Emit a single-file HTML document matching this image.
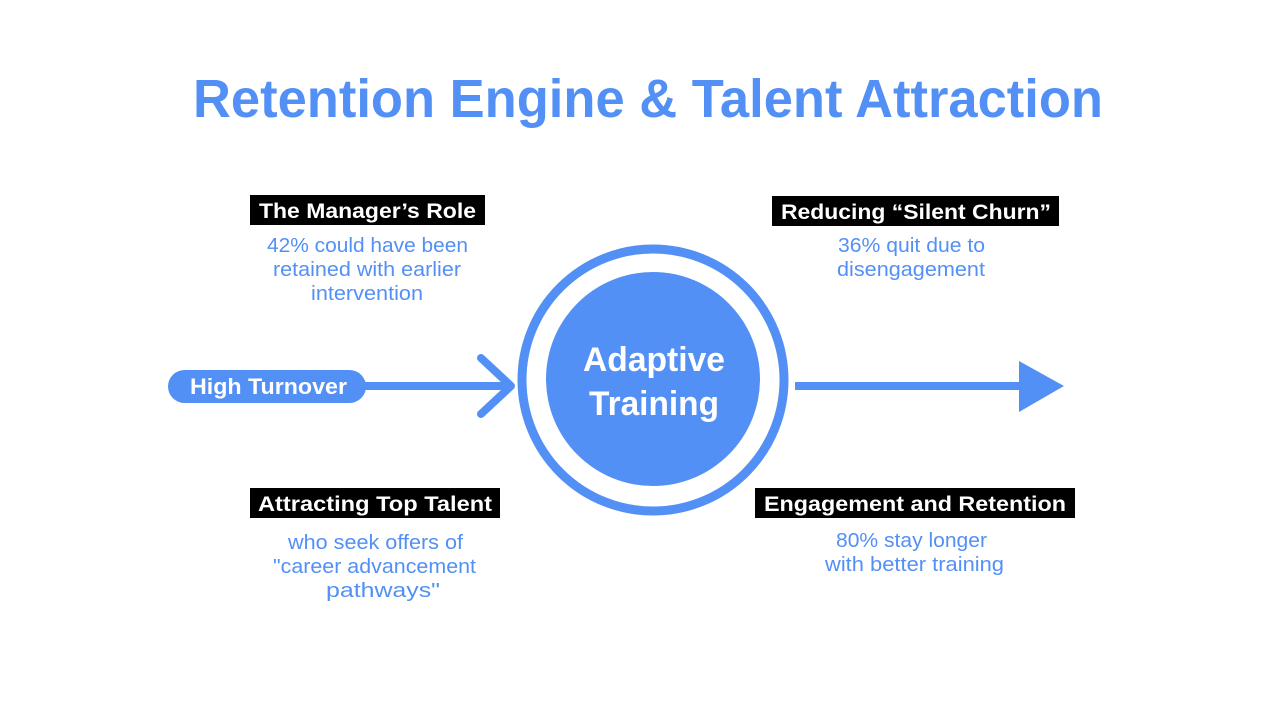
<!DOCTYPE html>
<html><head><meta charset="utf-8"><style>
html,body{margin:0;padding:0;background:#fff;}
svg{display:block;}
text{font-family:"Liberation Sans",Arial,sans-serif;}
</style></head><body>
<svg width="1280" height="720" viewBox="0 0 1280 720" xmlns="http://www.w3.org/2000/svg">
<rect width="1280" height="720" fill="#fff"/>
<text x="193" y="117" font-size="54" font-weight="bold" fill="#5390f5" textLength="910" lengthAdjust="spacingAndGlyphs">Retention Engine &amp; Talent Attraction</text>

<!-- left pill + arrow -->
<rect x="168" y="370" width="198" height="33" rx="16.5" fill="#5390f5"/>
<text x="190" y="394" font-size="22" font-weight="bold" fill="#fff" textLength="157" lengthAdjust="spacingAndGlyphs">High Turnover</text>
<line x1="360" y1="386" x2="510" y2="386" stroke="#5390f5" stroke-width="8"/>
<polyline points="481,358 511,386 481,414" fill="none" stroke="#5390f5" stroke-width="8" stroke-linecap="round" stroke-linejoin="round"/>

<!-- circle -->
<circle cx="653" cy="380" r="131" fill="none" stroke="#5390f5" stroke-width="9"/>
<circle cx="653" cy="379" r="107" fill="#5390f5"/>
<text x="654" y="371" font-size="34" font-weight="bold" fill="#fff" text-anchor="middle" textLength="142" lengthAdjust="spacingAndGlyphs">Adaptive</text>
<text x="654" y="415" font-size="34" font-weight="bold" fill="#fff" text-anchor="middle" textLength="130" lengthAdjust="spacingAndGlyphs">Training</text>

<!-- right arrow -->
<line x1="795" y1="386" x2="1022" y2="386" stroke="#5390f5" stroke-width="8"/>
<polygon points="1019,361 1064,386 1019,412" fill="#5390f5"/>

<!-- labels -->
<rect x="250" y="195" width="235" height="30" fill="#000"/>
<text x="259" y="218" font-size="21" font-weight="bold" fill="#fff" textLength="217" lengthAdjust="spacingAndGlyphs">The Manager’s Role</text>
<rect x="772" y="196" width="287" height="30" fill="#000"/>
<text x="781" y="219" font-size="21" font-weight="bold" fill="#fff" textLength="270" lengthAdjust="spacingAndGlyphs">Reducing “Silent Churn”</text>
<rect x="250" y="488" width="250" height="30" fill="#000"/>
<text x="258" y="511" font-size="21" font-weight="bold" fill="#fff" textLength="234" lengthAdjust="spacingAndGlyphs">Attracting Top Talent</text>
<rect x="755" y="488" width="320" height="30" fill="#000"/>
<text x="764" y="511" font-size="21" font-weight="bold" fill="#fff" textLength="302" lengthAdjust="spacingAndGlyphs">Engagement and Retention</text>

<!-- descriptions -->
<g font-size="20" fill="#5390f5" lengthAdjust="spacingAndGlyphs">
<text x="267" y="252" textLength="201" lengthAdjust="spacingAndGlyphs">42% could have been</text>
<text x="273" y="276" textLength="188" lengthAdjust="spacingAndGlyphs">retained with earlier</text>
<text x="311" y="300" textLength="112" lengthAdjust="spacingAndGlyphs">intervention</text>
<text x="838" y="252" textLength="147" lengthAdjust="spacingAndGlyphs">36% quit due to</text>
<text x="837" y="276" textLength="148" lengthAdjust="spacingAndGlyphs">disengagement</text>
<text x="288" y="549" textLength="175" lengthAdjust="spacingAndGlyphs">who seek offers of</text>
<text x="273" y="573" textLength="203" lengthAdjust="spacingAndGlyphs">"career advancement</text>
<text x="326" y="597" textLength="114" lengthAdjust="spacingAndGlyphs">pathways"</text>
<text x="836" y="547" textLength="151" lengthAdjust="spacingAndGlyphs">80% stay longer</text>
<text x="825" y="571" textLength="179" lengthAdjust="spacingAndGlyphs">with better training</text>
</g>
</svg>
</body></html>
